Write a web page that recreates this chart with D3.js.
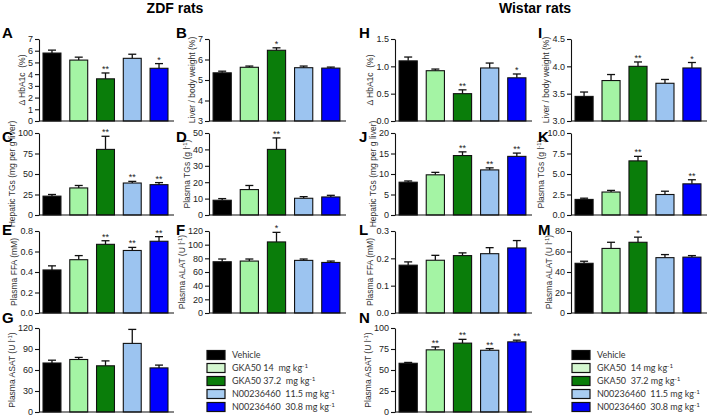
<!DOCTYPE html>
<html><head><meta charset="utf-8">
<script src="https://cdn.jsdelivr.net/npm/d3@7"></script>
<style>body{margin:0;background:#fff} svg{display:block} text{white-space:pre}</style>
</head><body><svg id="c" width="709" height="418"></svg>
<script>
// ---------- data ----------
const groups = ["Vehicle","GKA50 14 mg kg^-1","GKA50 37.2 mg kg^-1","N00236460 11.5 mg kg^-1","N00236460 30.8 mg kg^-1"];
const legendLeft = ["Vehicle","GKA50 14  mg kg^-1","GKA50 37.2  mg kg^-1","N00236460  11.5 mg kg^-1","N00236460  30.8 mg kg^-1"];
const legendRight = ["Vehicle","GKA50  14 mg kg^-1","GKA50  37.2 mg kg^-1","N00236460  11.5 mg kg^-1","N00236460  30.8 mg kg^-1"];
const colors = ["#000000","#a4f4a4","#0a7d0a","#9cc4f0","#0000ff"];
const legendColors = ["#000000","#d4f7d0","#0a7d0a","#a8cdf2","#0000ff"];

// ZDF rats
const zdfHbA1c = [5.8, 5.2, 3.6, 5.35, 4.5];
const zdfHbA1cErr = [0.25, 0.25, 0.5, 0.35, 0.4];
const zdfHbA1cSig = ["", "", "**", "", "*"];
const zdfHbA1cTicks = [0, 1, 2, 3, 4, 5, 6, 7];

const zdfLiver = [5.35, 5.62, 6.45, 5.6, 5.58];
const zdfLiverErr = [0.08, 0.06, 0.12, 0.08, 0.05];
const zdfLiverSig = ["", "", "*", "", ""];
const zdfLiverTicks = [3, 4, 5, 6, 7];

const zdfHepTG = [23, 33, 80, 39, 37];
const zdfHepTGErr = [2, 3, 16, 2, 2.5];
const zdfHepTGSig = ["", "", "**", "**", "**"];
const zdfHepTGTicks = [0, 25, 50, 75, 100];

const zdfPlTG = [9, 15.5, 40, 10.2, 11];
const zdfPlTGErr = [1, 2.5, 7, 1, 1];
const zdfPlTGSig = ["", "", "**", "", ""];
const zdfPlTGTicks = [0, 10, 20, 30, 40, 50];

const zdfFFA = [0.42, 0.52, 0.67, 0.61, 0.70];
const zdfFFAErr = [0.04, 0.04, 0.035, 0.03, 0.045];
const zdfFFASig = ["", "", "**", "**", "**"];
const zdfFFATicks = [0, 0.2, 0.4, 0.6, 0.8];

const zdfALAT = [75, 76, 104, 77, 74];
const zdfALATErr = [4, 3, 14, 2, 2];
const zdfALATSig = ["", "", "*", "", ""];
const zdfALATTicks = [0, 20, 40, 60, 80, 100, 120];

const zdfASAT = [70, 75, 66, 98, 63];
const zdfASATErr = [4, 3, 7, 20, 4];
const zdfASATSig = ["", "", "", "", ""];
const zdfASATTicks = [0, 30, 60, 90, 120];

// Wistar rats
const wisHbA1c = [1.1, 0.92, 0.5, 0.97, 0.79];
const wisHbA1cErr = [0.07, 0.03, 0.07, 0.09, 0.07];
const wisHbA1cSig = ["", "", "**", "", "*"];
const wisHbA1cTicks = [0, 0.5, 1.0, 1.5];

const wisLiver = [3.45, 3.74, 4.0, 3.69, 3.97];
const wisLiverErr = [0.08, 0.11, 0.08, 0.07, 0.1];
const wisLiverSig = ["", "", "**", "", "*"];
const wisLiverTicks = [3.0, 3.5, 4.0, 4.5];

const wisHepTG = [8.0, 9.8, 14.5, 11.0, 14.3];
const wisHepTGErr = [0.3, 0.6, 0.9, 0.5, 0.8];
const wisHepTGSig = ["", "", "**", "**", "**"];
const wisHepTGTicks = [0, 5, 10, 15, 20];

const wisPlTG = [1.9, 2.8, 6.6, 2.5, 3.8];
const wisPlTGErr = [0.15, 0.2, 0.55, 0.4, 0.5];
const wisPlTGSig = ["", "", "**", "", "**"];
const wisPlTGTicks = [0, 2.5, 5.0, 7.5, 10.0];

const wisFFA = [0.175, 0.193, 0.21, 0.217, 0.238];
const wisFFAErr = [0.012, 0.018, 0.01, 0.022, 0.027];
const wisFFASig = ["", "", "", "", ""];
const wisFFATicks = [0, 0.1, 0.2, 0.3];

const wisALAT = [48.5, 63, 69, 54, 54.5];
const wisALATErr = [2, 6, 5, 3, 1.5];
const wisALATSig = ["", "", "*", "", ""];
const wisALATTicks = [0, 20, 40, 60, 80];

const wisASAT = [58, 74, 82, 73.5, 83.5];
const wisASATErr = [1, 3.5, 4.5, 2, 2];
const wisASATSig = ["", "**", "**", "**", "**"];
const wisASATTicks = [0, 25, 50, 75, 100];

// ---------- layout ----------
const rows = [{top:39,bottom:121},{top:133,bottom:215},{top:231,bottom:313},{top:328,bottom:412}];
const cols = [{x0:39,x1:172},{x0:209,x1:344},{x0:395,x1:530},{x0:571,x1:705}];
const letterX = [2,176,359,538];
const letterY = [38,142,235,323];
const f0 = d3.format("d"), f1 = d3.format(".1f");

const panels = [
  {L:"A",c:0,r:0,t:"\u0394 HbA1c  (%)",v:zdfHbA1c,e:zdfHbA1cErr,s:zdfHbA1cSig,ticks:zdfHbA1cTicks,fmt:f0},
  {L:"B",c:1,r:0,t:"Liver / body weight (%)",v:zdfLiver,e:zdfLiverErr,s:zdfLiverSig,ticks:zdfLiverTicks,fmt:f0},
  {L:"C",c:0,r:1,t:"Hepatic TGs (mg per g liver)",v:zdfHepTG,e:zdfHepTGErr,s:zdfHepTGSig,ticks:zdfHepTGTicks,fmt:f0},
  {L:"D",c:1,r:1,t:"Plasma TGs (g l^-1)",v:zdfPlTG,e:zdfPlTGErr,s:zdfPlTGSig,ticks:zdfPlTGTicks,fmt:f0},
  {L:"E",c:0,r:2,t:"Plasma FFA (mM)",v:zdfFFA,e:zdfFFAErr,s:zdfFFASig,ticks:zdfFFATicks,fmt:f1},
  {L:"F",c:1,r:2,t:"Plasma ALAT (U l^-1)",v:zdfALAT,e:zdfALATErr,s:zdfALATSig,ticks:zdfALATTicks,fmt:f0},
  {L:"G",c:0,r:3,t:"Plasma ASAT (U l^-1)",v:zdfASAT,e:zdfASATErr,s:zdfASATSig,ticks:zdfASATTicks,fmt:f0},
  {L:"H",c:2,r:0,t:"\u0394 HbA1c  (%)",v:wisHbA1c,e:wisHbA1cErr,s:wisHbA1cSig,ticks:wisHbA1cTicks,fmt:f1},
  {L:"I",c:3,r:0,t:"Liver / body weight (%)",v:wisLiver,e:wisLiverErr,s:wisLiverSig,ticks:wisLiverTicks,fmt:f1},
  {L:"J",c:2,r:1,t:"Hepatic TGs (mg per g liver)",v:wisHepTG,e:wisHepTGErr,s:wisHepTGSig,ticks:wisHepTGTicks,fmt:f0},
  {L:"K",c:3,r:1,t:"Plasma TGs (g l^-1)",v:wisPlTG,e:wisPlTGErr,s:wisPlTGSig,ticks:wisPlTGTicks,fmt:f1},
  {L:"L",c:2,r:2,t:"Plasma FFA (mM)",v:wisFFA,e:wisFFAErr,s:wisFFASig,ticks:wisFFATicks,fmt:f1},
  {L:"M",c:3,r:2,t:"Plasma ALAT (U l^-1)",v:wisALAT,e:wisALATErr,s:wisALATSig,ticks:wisALATTicks,fmt:f0},
  {L:"N",c:2,r:3,t:"Plasma ASAT (U l^-1)",v:wisASAT,e:wisASATErr,s:wisASATSig,ticks:wisASATTicks,fmt:f0}
];

const svg = d3.select("#c");
const FONT = "'Liberation Sans', Arial, sans-serif";

function richText(sel, str) {
  // supports "^-1" superscript
  const parts = str.split("^");
  sel.append("tspan").text(parts[0]);
  for (let i = 1; i < parts.length; i++) {
    const m = parts[i].match(/^(-?\d+)(.*)$/);
    sel.append("tspan").attr("baseline-shift","super").attr("font-size","0.7em").text(m[1]);
    if (m[2]) sel.append("tspan").text(m[2]);
  }
}

svg.append("text").attr("x",175).attr("y",13).attr("text-anchor","middle")
  .attr("font-family",FONT).attr("font-weight","bold").attr("font-size",14).text("ZDF rats");
svg.append("text").attr("x",535).attr("y",13).attr("text-anchor","middle")
  .attr("font-family",FONT).attr("font-weight","bold").attr("font-size",14).text("Wistar rats");

panels.forEach(p => {
  const c = cols[p.c], r = rows[p.r];
  const base = p.ticks[0], topV = p.ticks[p.ticks.length-1];
  const x = d3.scaleBand().domain(d3.range(p.v.length)).range([c.x0, c.x1]).paddingInner(0.33).paddingOuter(0.15);
  const y = d3.scaleLinear().domain([base, topV]).range([r.bottom, r.top]);
  const g = svg.append("g");

  // error bars (upper)
  g.selectAll("line.err").data(p.v).join("line")
    .attr("x1",(d,i)=>x(i)+x.bandwidth()/2).attr("x2",(d,i)=>x(i)+x.bandwidth()/2)
    .attr("y1",d=>y(d)).attr("y2",(d,i)=>y(d+p.e[i]))
    .attr("stroke","#111").attr("stroke-width",1.3);
  g.selectAll("line.cap").data(p.v).join("line")
    .attr("x1",(d,i)=>x(i)+x.bandwidth()/2-4).attr("x2",(d,i)=>x(i)+x.bandwidth()/2+4)
    .attr("y1",(d,i)=>y(d+p.e[i])).attr("y2",(d,i)=>y(d+p.e[i]))
    .attr("stroke","#111").attr("stroke-width",1.3);
  // bars
  g.selectAll("rect.bar").data(p.v).join("rect")
    .attr("x",(d,i)=>x(i)).attr("y",d=>y(d))
    .attr("width",x.bandwidth()).attr("height",d=>y(base)-y(d))
    .attr("fill",(d,i)=>colors[i]).attr("stroke","#111").attr("stroke-width",1.1);
  // significance
  g.selectAll("text.sig").data(p.v).join("text")
    .attr("x",(d,i)=>x(i)+x.bandwidth()/2).attr("y",(d,i)=>y(d+p.e[i])-1)
    .attr("text-anchor","middle").attr("font-family",FONT).attr("font-size",9).attr("fill","#222")
    .text((d,i)=>p.s[i]);

  // y axis
  const ax = d3.axisLeft(y).tickValues(p.ticks).tickFormat(p.fmt).tickSize(4).tickSizeOuter(0).tickPadding(2);
  const ag = g.append("g").attr("transform",`translate(${c.x0},0)`).call(ax);
  ag.select(".domain").attr("stroke","#111").attr("stroke-width",1.1);
  ag.selectAll(".tick line").attr("stroke","#111").attr("stroke-width",1.1);
  ag.selectAll(".tick text").attr("font-family",FONT).attr("font-size",9).attr("fill","#222");
  let maxW = 0;
  ag.selectAll(".tick text").each(function(){ maxW = Math.max(maxW, this.getComputedTextLength()); });
  // x axis line
  g.append("line").attr("x1",c.x0).attr("x2",c.x1+2).attr("y1",r.bottom).attr("y2",r.bottom)
    .attr("stroke","#111").attr("stroke-width",1.1);
  // y title
  const tx = c.x0 - 6 - maxW - 6;
  const tt = g.append("text").attr("transform",`translate(${tx},${(r.top+r.bottom)/2}) rotate(-90)`)
    .attr("text-anchor","middle").attr("dy","0.35em").attr("font-family",FONT).attr("font-size",8.5).attr("fill","#333");
  richText(tt, p.t);
  // panel letter
  svg.append("text").attr("x",letterX[p.c]).attr("y",letterY[p.r])
    .attr("font-family",FONT).attr("font-weight","bold").attr("font-size",15).text(p.L);
});

// legends
function legend(x0, labels) {
  const ly = d3.scalePoint().domain(d3.range(labels.length)).range([355, 407]);
  const g = svg.append("g");
  g.selectAll("rect").data(labels).join("rect")
    .attr("x",x0).attr("y",(d,i)=>ly(i)-4.5).attr("width",18).attr("height",9)
    .attr("fill",(d,i)=>legendColors[i]).attr("stroke","#111").attr("stroke-width",1.2);
  g.selectAll("text").data(labels).join("text")
    .attr("x",x0+25).attr("y",(d,i)=>ly(i)).attr("dy","0.35em")
    .attr("font-family","Lato, 'Open Sans', sans-serif").attr("font-size",9).attr("fill","#333")
    .each(function(d){ richText(d3.select(this), d); });
}
legend(207, legendLeft);
legend(572, legendRight);
</script></body></html>
